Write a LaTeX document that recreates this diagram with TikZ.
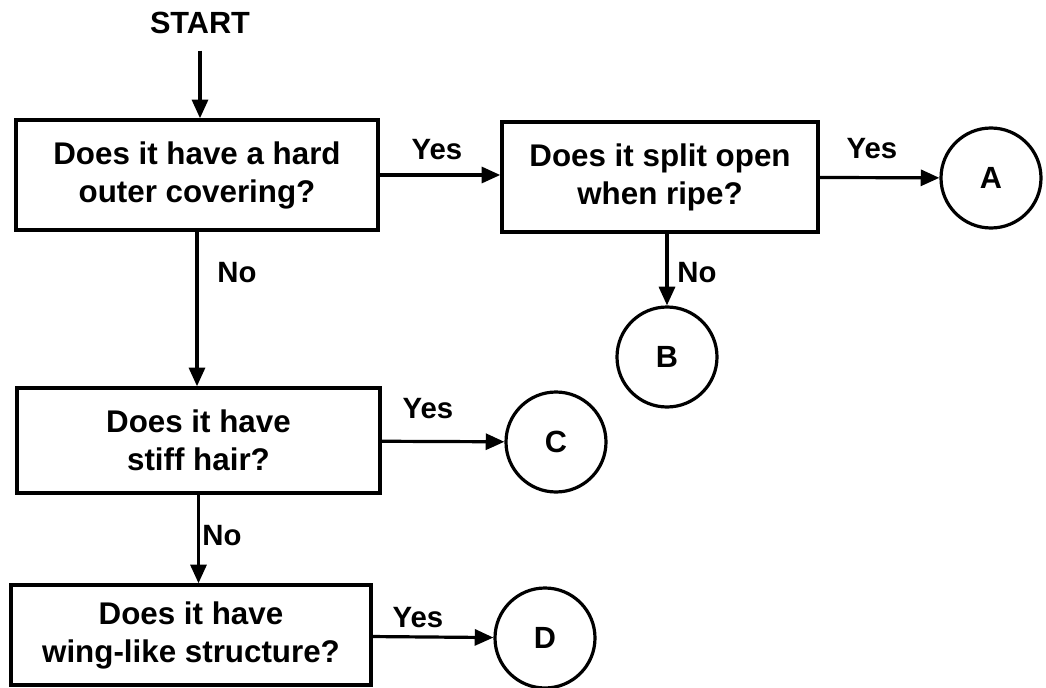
\documentclass[tikz,border=0pt]{standalone}
\usepackage{fontspec}
\setmainfont{Liberation Sans}
\usetikzlibrary{arrows.meta}

\begin{document}
\begin{tikzpicture}[x=0.75pt, y=-0.75pt,
        question/.style={draw, line width=2.6pt, align=center, inner sep=0pt,
            font=\bfseries\fontsize{23.5}{28.5}\selectfont},
        answer/.style={draw, circle, line width=2.4pt, minimum size=75pt, inner sep=0pt,
            font=\bfseries\fontsize{23}{28}\selectfont},
        lbl/.style={font=\bfseries\fontsize{22}{26}\selectfont},
        link/.style={line width=2.4pt, -{Triangle[length=14pt, width=12pt]}}]
        \useasboundingbox (0,0) rectangle (1046,688);

        \node[lbl, font=\bfseries\fontsize{23}{28}\selectfont] (start) at (200,23) {START};
        \node[question, minimum width=271.5pt, minimum height=82.5pt] (q1) at (197,175) {Does it have a hard\\outer covering?};
        \node[question, minimum width=237pt, minimum height=82.5pt] (q2) at (660,177) {Does it split open\\when ripe?};
        \node[question, minimum width=272pt, minimum height=78.75pt] (q3) at (198.5,440.5) {Does it have\\stiff hair?};
        \node[question, minimum width=270pt, minimum height=75pt] (q4) at (191,635) {Does it have\\wing-like structure?};

        \node[answer] (a) at (991,178) {A};
        \node[answer] (b) at (667,357) {B};
        \node[answer] (c) at (556,442) {C};
        \node[answer] (d) at (545,638) {D};

        \draw[link, shorten <=9pt] (start) -- (start |- q1.north);
        \draw[link] (q1.east) -- (q1.east -| q2.west);
        \draw[link] (q2) -- (a);
        \draw[link] (b |- q2.south) -- (b);
        \draw[link] (q1.south) -- (q1.south |- q3.north);
        \draw[link] (q3) -- (c);
        \draw[link] (q3.south) -- (q3.south |- q4.north);
        \draw[link] (q4) -- (d);

        \node[lbl] (yes1) at (437,150) {Yes};
        \node[lbl] (yes2) at (872,149) {Yes};
        \node[lbl] (no1) at (237,273) {No};
        \node[lbl] (no2) at (697,273) {No};
        \node[lbl] (yes3) at (428,409) {Yes};
        \node[lbl] (no3) at (222,536) {No};
        \node[lbl] (yes4) at (418,618) {Yes};
    \end{tikzpicture}
\end{document}
